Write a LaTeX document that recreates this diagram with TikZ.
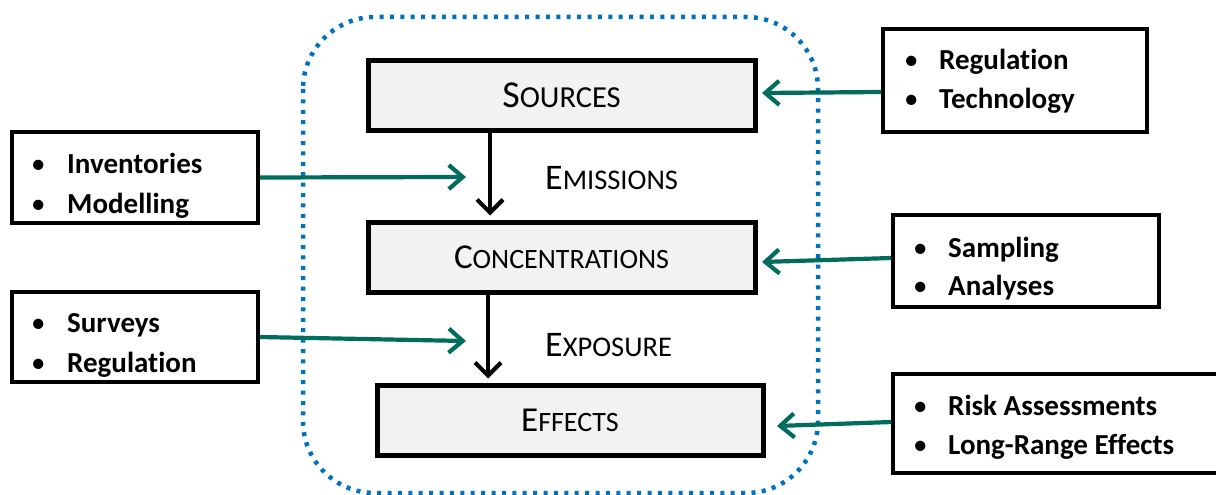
\documentclass[tikz,border=0pt]{standalone}
\usepackage{fontspec}
\setmainfont{Carlito}[Ligatures=NoCommon]
\usetikzlibrary{arrows.meta}
\definecolor{tealarr}{RGB}{0,108,94}
\definecolor{dotblue}{RGB}{0,112,192}
\definecolor{boxgray}{RGB}{242,242,242}
\newcommand{\mysc}[4]{{\fontsize{#1}{#1}\selectfont #3}{\fontsize{#2}{#2}\selectfont #4}}
\begin{document}
\begin{tikzpicture}[x=1pt,y=-1pt,
  mainbox/.style={draw=black, fill=boxgray, line width=5pt, inner sep=0pt},
  sidebox/.style={draw=black, fill=white, line width=3.5pt, inner sep=0pt},
  itemtxt/.style={anchor=base west, inner sep=0pt, font=\fontsize{29}{29}\selectfont\bfseries},
  bul/.style={anchor=base west, inner sep=0pt, font=\fontsize{29}{29}\selectfont},
  flowlbl/.style={anchor=base west, inner sep=0pt},
  blackarrow/.style={draw=black, line width=4.2pt, -{Straight Barb[length=13pt,width=26pt]}},
  tealarrow/.style={draw=tealarr, line width=4.2pt, -{Straight Barb[length=14pt,width=24pt]}}
]
\useasboundingbox (0,0) rectangle (1216,495);
\clip (0,0) rectangle (1216,495);

% dotted enclosure
\draw[dotblue, line width=4.5pt, dash pattern=on 4pt off 6.4pt, rounded corners=72pt] (303,17) rectangle (818,493);

% main boxes
\node[mainbox, minimum width=387pt, minimum height=69pt] (src) at (561.5,95.5)
  {\mysc{38}{30.5}{S}{OURCES}};
\node[mainbox, minimum width=387pt, minimum height=70pt] (conc) at (561.5,257)
  {\mysc{35}{28}{C}{ONCENTRATIONS}};
\node[mainbox, minimum width=386pt, minimum height=70pt] (eff) at (570,420)
  {\mysc{35}{28}{E}{FFECTS}};

% flow labels
\node[flowlbl] (emi) at (545,189) {\mysc{36}{28.5}{E}{MISSIONS}};
\node[flowlbl] (exp) at (545,356) {\mysc{36}{28.5}{E}{XPOSURE}};

% black arrows
\coordinate (ax1) at (490,0);
\coordinate (ax2) at (488,0);
\draw[blackarrow, shorten >=4pt] (src.south -| ax1) -- (conc.north -| ax1);
\draw[blackarrow, shorten >=4pt] (conc.south -| ax2) -- (eff.north -| ax2);

% left side boxes
\node[sidebox, minimum width=246pt, minimum height=91pt] (inv) at (135,177.5) {};
\node[bul] (invb1) at (31,173) {\textbullet};
\node[itemtxt] (inv1) at (67,173) {Inventories};
\node[bul] (invb2) at (31,213) {\textbullet};
\node[itemtxt] (inv2) at (67,213) {Modelling};

\node[sidebox, minimum width=246pt, minimum height=90pt] (sur) at (135,337) {};
\node[bul] (surb1) at (31,332) {\textbullet};
\node[itemtxt] (sur1) at (67,332) {Surveys};
\node[bul] (surb2) at (31,372) {\textbullet};
\node[itemtxt] (sur2) at (67,372) {Regulation};

% right side boxes
\node[sidebox, minimum width=264pt, minimum height=103pt] (reg) at (1015,80.5) {};
\node[bul] (regb1) at (904,70) {\textbullet};
\node[itemtxt] (reg1) at (939,70) {Regulation};
\node[bul] (regb2) at (904,108) {\textbullet};
\node[itemtxt] (reg2) at (939,108) {Technology};

\node[sidebox, minimum width=266pt, minimum height=92pt] (samp) at (1026,261) {};
\node[bul] (sampb1) at (913,257) {\textbullet};
\node[itemtxt] (samp1) at (948,257) {Sampling};
\node[bul] (sampb2) at (913,295) {\textbullet};
\node[itemtxt] (samp2) at (948,295) {Analyses};

\node[sidebox, minimum width=334pt, minimum height=99pt] (risk) at (1060,423.5) {};
\node[bul] (riskb1) at (913,415) {\textbullet};
\node[itemtxt] (risk1) at (948,415) {Risk Assessments};
\node[bul] (riskb2) at (913,454) {\textbullet};
\node[itemtxt] (risk2) at (948,454) {Long-Range Effects};

% teal arrows
\coordinate (tl1) at (466,177);
\coordinate (tl2) at (466,341);
\coordinate (tr1) at (762,93);
\coordinate (tr2) at (762,262);
\coordinate (tr3) at (777,426);
\draw[tealarrow] (inv.east) -- (tl1);
\draw[tealarrow] (sur.east) -- (tl2);
\draw[tealarrow] ([yshift=-11.5pt]reg.west) -- (tr1);
\draw[tealarrow] ([yshift=3pt]samp.west) -- (tr2);
\draw[tealarrow] ([yshift=1.5pt]risk.west) -- (tr3);
\end{tikzpicture}
\end{document}
